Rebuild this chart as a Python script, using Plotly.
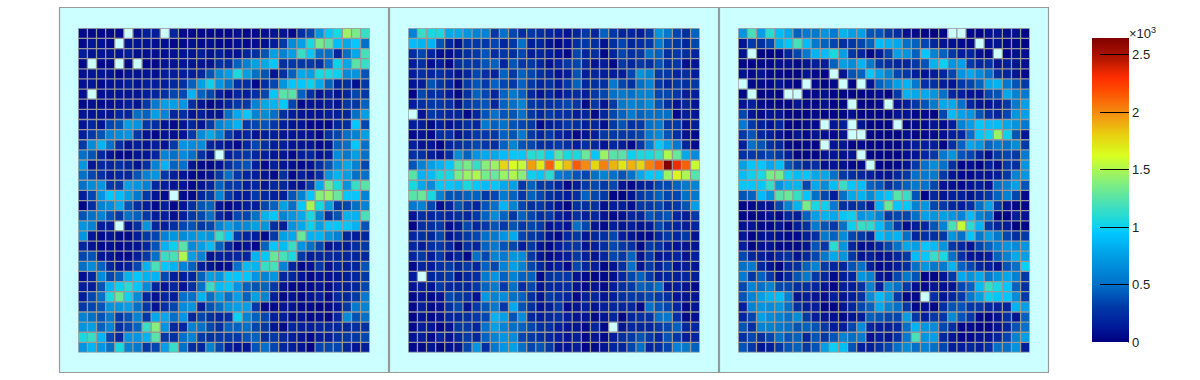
import plotly.graph_objects as go

N = None
panel1 = [
[50,50,50,50,50,N,80,150,150,N,200,50,50,50,50,50,50,80,50,50,80,100,100,50,250,350,700,950,1050,1450,1350,1150],
[50,100,80,50,N,100,100,100,80,80,50,50,80,50,80,50,50,80,50,80,80,150,300,650,750,1050,1350,1250,900,800,950,500],
[150,100,100,100,100,150,80,80,80,80,100,100,100,150,100,150,100,100,200,250,400,750,600,750,1150,950,500,500,200,500,800,1200],
[50,N,50,50,N,50,N,50,50,100,100,100,100,100,100,250,250,450,600,750,800,950,250,300,300,300,250,500,1000,800,1250,1150],
[80,100,100,100,50,100,100,100,80,150,150,150,150,200,400,650,750,1050,750,500,400,100,250,450,800,750,1050,1050,1000,650,700,400],
[80,100,50,100,100,150,100,150,150,150,200,250,450,750,1000,700,500,250,250,50,250,350,700,950,950,1000,800,450,200,250,80,300],
[80,N,80,100,100,100,100,150,200,250,350,350,850,450,350,150,80,200,150,250,350,950,1250,1250,450,250,100,200,100,200,350,300],
[50,80,50,80,100,150,100,300,550,750,750,700,250,100,50,100,200,300,300,600,800,850,950,350,50,100,100,150,100,300,300,450],
[100,100,100,100,200,200,500,450,750,600,200,250,100,150,100,100,500,800,950,600,650,500,250,150,100,100,100,150,150,200,500,750],
[100,200,100,350,400,750,700,300,250,100,50,100,200,100,300,600,700,850,300,350,400,300,150,100,100,50,50,50,200,250,950,350],
[150,300,400,600,650,700,300,100,50,100,80,100,300,650,800,600,300,150,200,100,150,150,100,100,100,100,50,250,350,500,600,750],
[300,650,850,500,250,100,150,100,150,100,300,700,650,650,200,150,100,50,200,350,250,150,150,100,100,100,50,100,450,500,950,500],
[500,400,200,100,50,50,100,100,200,600,500,650,500,250,100,N,150,250,300,200,150,100,100,50,150,200,100,150,650,550,750,500],
[700,100,200,200,250,200,100,250,600,850,450,500,100,50,50,100,250,350,400,150,50,150,100,80,50,100,250,400,650,800,600,350],
[500,350,250,150,200,200,400,600,700,300,150,100,50,50,100,300,500,300,200,150,100,50,250,50,150,100,250,700,850,750,500,500],
[500,650,700,300,300,750,700,600,200,150,100,100,50,100,200,450,300,300,150,200,100,200,200,100,100,300,800,1300,1050,700,1150,1250],
[150,350,700,950,900,750,550,300,100,50,N,50,50,200,300,600,300,150,150,300,200,150,150,400,600,950,1400,1450,1300,950,950,600],
[30,250,600,650,800,400,250,150,50,150,50,100,250,400,450,100,50,100,150,150,350,450,750,500,950,1480,1050,750,300,350,500,600],
[400,500,600,400,300,500,450,300,150,150,80,150,300,350,500,200,100,350,350,500,850,950,600,700,800,1050,600,250,400,850,850,1200],
[700,600,150,150,N,100,250,700,200,150,250,350,400,300,350,600,750,600,650,750,700,250,150,700,800,1000,750,950,950,950,850,400],
[700,100,50,100,50,50,150,300,350,600,700,650,700,750,700,1150,950,300,200,150,50,300,750,800,1300,850,850,700,600,200,150,200],
[200,100,50,80,50,80,100,200,400,850,1000,1250,650,750,900,450,200,50,100,50,450,950,900,1150,700,500,350,100,150,150,250,300],
[350,400,100,100,50,50,150,300,500,1150,1200,1500,750,600,100,150,150,200,200,850,950,1300,1200,1050,300,150,200,200,200,200,200,200],
[500,650,450,200,100,150,350,850,1200,950,850,600,450,150,100,50,80,500,900,850,1150,1200,600,200,50,100,300,100,200,150,200,400],
[80,200,650,350,450,850,950,850,850,350,150,150,200,450,750,700,950,950,950,700,600,700,200,200,100,50,100,80,100,150,200,300],
[150,150,400,850,1000,1100,950,650,200,100,200,100,250,500,1150,900,950,700,450,400,450,300,100,50,50,50,100,50,150,150,200,350],
[150,350,500,1050,1300,1000,650,200,100,200,150,500,500,850,500,750,500,750,450,750,600,150,50,100,50,100,150,50,200,200,300,550],
[300,350,400,700,700,750,500,300,100,250,350,650,700,150,400,500,700,750,750,300,50,50,100,100,50,50,30,50,100,300,550,600],
[600,500,400,550,300,400,600,300,800,800,500,700,200,350,250,200,250,1000,600,450,350,150,150,80,100,50,80,30,200,650,400,500],
[700,750,450,600,250,350,450,1150,1400,700,200,200,600,500,350,250,450,450,500,350,300,100,50,200,150,150,200,200,200,200,250,250],
[1050,1150,850,350,200,700,700,850,1250,300,250,500,600,300,250,300,300,300,400,450,250,300,200,150,100,50,150,150,250,300,300,350],
[700,850,700,500,1050,600,550,300,350,750,1150,500,250,200,600,350,150,100,100,400,500,350,200,150,100,30,350,350,350,200,100,150],
]
panel2 = [
[600,1150,1050,1050,800,800,700,600,600,300,500,350,250,300,250,200,150,100,200,300,200,450,300,200,200,150,300,700,550,350,250,450],
[900,850,850,400,200,100,300,300,300,350,200,300,500,150,200,100,50,100,250,300,250,100,250,350,200,250,300,550,350,300,200,350],
[250,350,200,80,80,150,250,300,400,250,300,250,350,150,200,150,100,50,350,200,250,50,200,350,250,300,500,450,250,300,250,200],
[150,250,80,150,50,250,300,300,400,450,200,400,300,300,200,100,200,300,350,200,100,150,50,300,200,300,250,400,250,300,80,100],
[150,250,200,250,200,100,200,350,250,200,450,300,450,350,250,200,100,150,400,150,200,150,150,150,350,700,600,300,300,200,250,150],
[100,150,400,300,200,50,300,400,300,450,350,300,450,300,200,250,150,300,450,200,250,250,550,350,250,500,600,300,200,300,250,300],
[30,350,250,250,150,50,250,450,350,200,450,550,450,200,100,200,100,200,250,150,300,350,500,550,500,600,600,350,350,300,150,150],
[150,250,300,300,250,100,300,350,400,200,450,500,600,300,250,250,300,350,300,50,300,100,300,550,600,550,650,400,250,100,200,100],
[N,100,300,250,200,200,50,200,400,500,400,400,500,300,200,300,250,250,150,200,50,200,350,450,550,450,500,500,500,50,150,100],
[150,150,50,150,100,150,250,200,550,450,500,400,350,300,50,150,200,300,250,150,200,80,300,400,250,300,500,550,300,300,100,150],
[50,100,50,250,250,100,200,300,300,300,450,400,550,300,200,300,200,150,50,100,150,300,300,300,300,350,550,650,400,250,100,50],
[150,100,100,30,200,250,300,350,300,250,450,600,400,350,250,250,300,250,150,250,200,100,200,150,50,300,550,950,750,550,200,50],
[250,250,150,100,250,650,450,700,800,800,900,950,950,1100,1100,950,1250,1050,1050,1300,950,1450,1250,1250,1000,1050,1050,1150,1500,1300,800,650],
[400,600,750,850,950,1250,1350,1150,1400,1450,1780,1620,1560,1950,1700,2130,1650,1850,2150,2000,1780,2030,1880,1720,1880,1780,2020,2150,2640,2330,2130,1580],
[1250,850,900,1050,1050,1350,1450,1500,1350,1300,1450,1500,1400,1000,950,1100,550,500,400,350,500,600,500,400,500,800,950,950,1450,1650,1500,1250],
[1050,800,650,950,950,900,1050,950,900,950,800,750,300,450,300,300,200,50,150,300,350,300,350,100,50,150,200,350,350,450,550,600],
[1250,1300,1050,600,400,400,450,450,300,350,550,450,300,450,350,250,200,150,250,450,350,300,30,30,100,300,350,450,350,350,500,550],
[550,600,350,80,200,400,300,200,400,500,850,600,350,250,300,200,100,30,250,250,250,80,150,150,80,300,300,350,250,300,400,750],
[100,250,200,250,200,250,200,300,450,650,450,300,450,350,250,300,150,100,250,150,200,100,50,80,200,200,400,350,400,200,150,300],
[30,250,250,300,80,150,350,200,300,400,300,400,300,350,300,100,150,100,500,350,100,50,150,100,150,100,150,350,250,200,150,200],
[200,250,200,350,100,200,300,350,500,550,700,800,350,300,250,100,50,200,300,100,200,250,350,150,100,50,50,200,300,200,300,100],
[200,150,250,300,200,50,250,200,450,550,400,350,150,300,100,50,150,250,300,100,150,250,350,300,250,50,300,250,150,100,100,100],
[200,300,150,300,100,200,50,500,350,600,550,700,650,300,100,50,100,150,300,150,100,200,350,300,450,100,300,100,150,200,100,150],
[50,200,150,250,300,200,300,200,450,350,600,750,600,350,200,100,150,50,350,200,150,50,100,250,500,100,300,150,300,100,150,100],
[150,N,200,250,300,100,200,250,550,700,450,600,450,450,50,250,300,300,100,50,30,50,80,200,350,450,300,150,200,150,200,150],
[100,150,100,300,200,200,200,300,450,550,300,500,250,350,100,200,200,250,100,50,100,50,150,250,300,450,400,500,100,150,100,50],
[50,100,50,100,350,300,250,100,700,600,650,500,450,250,100,300,250,200,50,150,200,100,150,250,300,300,350,300,250,100,100,100],
[50,150,50,100,250,350,100,300,400,550,300,800,400,250,100,150,300,50,100,150,100,150,200,200,200,50,500,400,350,200,50,100],
[30,100,50,100,200,200,250,300,350,850,750,400,650,200,150,200,250,150,100,100,50,100,200,30,200,250,250,500,550,250,50,80],
[50,150,100,30,100,300,300,200,500,750,600,500,450,350,250,250,150,100,100,50,200,50,N,100,200,200,200,300,350,450,200,200],
[100,150,50,200,100,200,300,200,450,600,700,650,350,300,250,200,150,100,150,50,100,50,150,250,300,400,300,200,400,300,150,200],
[50,50,100,30,80,100,350,700,250,550,700,750,500,350,400,300,100,100,150,30,50,100,200,200,350,500,200,250,350,600,550,450],
]
panel3 = [
[700,1200,750,1100,900,800,450,550,550,700,550,850,750,750,400,400,300,250,80,50,30,30,30,N,N,50,30,80,100,80,80,30],
[100,300,250,350,800,950,1200,900,550,450,350,250,300,350,450,900,850,800,500,450,350,200,100,80,50,50,N,80,100,50,50,30],
[80,N,30,30,50,200,350,550,850,900,1050,750,300,200,50,150,350,750,700,450,950,600,450,300,150,200,80,50,N,30,80,80],
[30,30,50,50,80,80,50,100,150,150,450,750,650,850,550,300,250,200,200,300,400,850,1000,700,750,300,200,250,100,150,100,80],
[80,50,100,50,50,30,30,100,50,30,N,100,400,450,950,750,600,350,300,150,100,150,200,350,700,800,650,500,250,200,100,50],
[N,50,50,50,100,50,30,N,50,30,50,N,30,N,100,450,550,750,850,550,250,250,150,100,300,350,450,800,850,550,400,300],
[30,N,30,50,30,N,N,50,50,80,30,30,30,30,50,80,30,300,850,800,800,700,500,200,150,100,100,350,400,800,600,550],
[100,150,50,50,30,30,100,50,30,80,30,30,N,30,30,50,N,80,150,300,400,550,800,800,500,200,100,100,150,300,550,750],
[350,100,50,100,100,30,30,30,50,30,30,30,80,30,30,30,30,100,100,50,50,30,350,900,750,700,400,250,200,350,700,750],
[550,300,150,100,200,30,30,50,50,N,100,150,N,100,30,30,30,N,30,50,50,100,50,150,600,750,950,900,900,800,700,550],
[300,400,200,150,100,30,100,50,100,80,50,80,N,N,30,30,30,30,80,30,50,50,80,150,200,500,950,1000,1450,1000,400,100],
[150,500,400,250,200,50,30,50,30,N,100,100,30,50,30,30,30,30,100,150,150,150,30,250,450,800,700,450,550,500,650,300],
[250,300,300,350,300,150,30,30,30,100,100,80,100,N,30,30,30,30,80,100,200,300,550,700,400,350,200,80,300,350,300,550],
[750,950,950,800,900,400,300,200,250,80,100,80,50,50,N,30,30,50,100,300,500,650,500,250,30,80,30,150,80,300,250,700],
[900,1000,1050,1350,1350,1000,900,950,800,800,500,300,250,200,150,100,100,200,300,500,550,550,300,100,50,50,100,100,150,300,600,700],
[950,950,950,1150,700,850,850,350,800,650,900,1150,950,900,450,400,250,350,450,550,500,350,100,80,50,100,150,100,500,600,750,400],
[400,450,900,700,1250,1300,1150,950,500,350,150,500,800,850,650,850,950,1250,1150,400,30,200,100,150,150,100,200,300,450,600,350,50],
[30,50,100,100,350,600,850,1350,1050,1000,550,250,250,300,150,850,1300,950,950,600,700,350,300,200,150,250,500,750,300,100,50,30],
[30,30,50,100,50,200,150,450,750,850,800,950,1000,700,750,600,300,350,350,500,750,700,750,700,600,900,600,500,30,30,150,100],
[80,100,50,50,100,30,150,250,550,400,300,500,1000,1150,1100,900,600,300,80,150,200,400,600,1200,1560,1100,850,300,200,150,30,30],
[100,30,80,100,80,50,50,150,250,550,450,650,350,300,200,900,800,850,500,200,250,250,300,700,500,950,550,750,550,350,250,300],
[150,30,80,100,50,50,50,100,400,300,1100,700,200,80,100,200,350,500,800,750,950,900,700,300,200,100,350,450,600,700,650,700],
[350,200,150,100,200,250,100,200,350,550,800,700,300,100,150,80,100,200,300,900,950,1150,1050,500,250,100,100,150,450,600,800,750],
[500,550,200,100,30,200,250,450,600,300,200,200,400,500,150,50,80,150,250,500,700,550,550,850,450,350,200,150,100,400,500,1000],
[550,300,450,300,80,200,400,550,300,200,50,150,200,700,600,100,80,350,550,400,30,30,100,300,800,700,800,550,700,800,600,300],
[350,600,500,600,350,350,250,250,200,100,30,150,150,250,600,150,650,500,300,80,50,100,80,100,350,450,900,1150,1050,950,450,250],
[400,600,750,850,900,600,100,150,100,80,150,100,150,250,650,900,750,300,50,50,N,250,100,200,300,550,750,1000,950,950,650,300],
[150,600,700,650,700,500,250,150,150,30,30,100,200,350,450,800,600,500,300,50,80,30,250,400,400,300,300,200,200,200,850,750],
[200,350,750,650,600,500,650,300,150,100,80,50,100,150,450,400,350,350,750,300,150,300,300,650,400,300,50,30,100,250,100,450],
[400,250,600,600,550,500,400,450,400,300,150,150,350,650,200,150,150,200,500,850,700,650,350,250,30,50,30,30,100,200,400,500],
[250,350,250,350,500,400,450,200,400,300,400,600,500,550,80,150,100,250,550,1200,700,750,200,100,30,50,100,100,200,350,600,750],
[400,300,100,150,300,400,450,300,400,750,1000,900,400,150,150,250,350,500,650,500,600,500,350,150,150,200,150,250,500,500,700,150],
]
panels = [panel1, panel2, panel3]
for p in panels:
    assert len(p) == 32 and all(len(r) == 32 for r in p), [len(r) for r in p]

z_max = 2643
scale_values = [0, 120, 300, 500, 800, 950, 1050, 1200, 1400, 1620, 1800, 2000, 2200, 2300, 2450, 2643]
scale_colors = ["#000080", "#001898", "#0038a8", "#0070c8", "#00a8ec", "#00c8ff", "#18d8e0",
                "#48e0b8", "#88f078", "#d8ff20", "#e8d010", "#f58a10", "#ff4800", "#ff2e00", "#b81800", "#800000"]
tick_values = [0, 500, 1000, 1500, 2000, 2500]
tick_labels = ["0", "0.5", "1", "1.5", "2", "2.5"]

W, H = 1200, 380
FRAME = "#999999"
PANEL_BG = "#ccffff"
frames = [(59.5, 388.5), (389.5, 718.5), (719.5, 1048.5)]
plots = [(78.3, 369.7), (408.3, 699.7), (738.3, 1029.7)]
plot_top, plot_bottom = 28.3, 352.5

fig = go.Figure()
shapes = []
for fx0, fx1 in frames:
    shapes.append(dict(type="rect", xref="paper", yref="paper", x0=fx0 / W, x1=fx1 / W,
                       y0=1 - 372.5 / H, y1=1 - 7.5 / H, fillcolor=PANEL_BG,
                       line=dict(color=FRAME, width=1.2), layer="below"))

layout_axes = {}
for i, (p, (px0, px1)) in enumerate(zip(panels, plots)):
    s = "" if i == 0 else str(i + 1)
    fig.add_trace(go.Heatmap(z=p, coloraxis="coloraxis", xaxis="x" + s, yaxis="y" + s,
                             hoverongaps=False))
    layout_axes["xaxis" + s] = dict(domain=[px0 / W, px1 / W], range=[-0.5, 31.5], visible=False,
                                    anchor="y" + s, fixedrange=True)
    layout_axes["yaxis" + s] = dict(domain=[1 - plot_bottom / H, 1 - plot_top / H], range=[31.5, -0.5],
                                    visible=False, anchor="x" + s, fixedrange=True)
    for k in range(33):
        pos = k - 0.5
        shapes.append(dict(type="line", xref="x" + s, yref="y" + s, x0=pos, x1=pos, y0=-0.5, y1=31.5,
                           line=dict(color=FRAME, width=1.3), layer="above"))
        shapes.append(dict(type="line", xref="x" + s, yref="y" + s, x0=-0.5, x1=31.5, y0=pos, y1=pos,
                           line=dict(color=FRAME, width=1.3), layer="above"))

shapes.append(dict(type="line", xref="paper", yref="paper", x0=1128.5 / W, x1=1128.5 / W,
                   y0=1 - 342.5 / H, y1=1 - 38.3 / H, line=dict(color="black", width=1), layer="above"))

fig.update_layout(
    width=W, height=H, margin=dict(l=0, r=0, t=0, b=0, autoexpand=False),
    paper_bgcolor="white", plot_bgcolor=PANEL_BG, showlegend=False, shapes=shapes,
    font=dict(family="Liberation Sans", color="#222222"),
    coloraxis=dict(
        cmin=0, cmax=z_max,
        colorscale=[[v / z_max, c] for v, c in zip(scale_values, scale_colors)],
        colorbar=dict(
            x=1092 / W, xanchor="left", xpad=0, ypad=0,
            y=1 - 38.3 / H, yanchor="top", len=304 / H, lenmode="fraction",
            thickness=36.5, thicknessmode="pixels", outlinewidth=0, borderwidth=0,
            ticks="inside", ticklen=29, tickwidth=1, tickcolor="black",
            tickmode="array", tickvals=tick_values, ticktext=tick_labels,
            tickfont=dict(family="Liberation Sans", size=13, color="#222222"),
        ),
    ),
    annotations=[dict(text="×10<sup>3</sup>", xref="paper", yref="paper", x=1127 / W, y=1 - 33 / H,
                      xanchor="left", yanchor="middle", showarrow=False,
                      font=dict(family="Liberation Sans", size=13, color="#222222"))],
    **layout_axes,
)
fig.write_html("out.html", config=dict(displayModeBar=False),
               post_script="document.body.style.margin='0';document.documentElement.style.overflow='hidden';")
